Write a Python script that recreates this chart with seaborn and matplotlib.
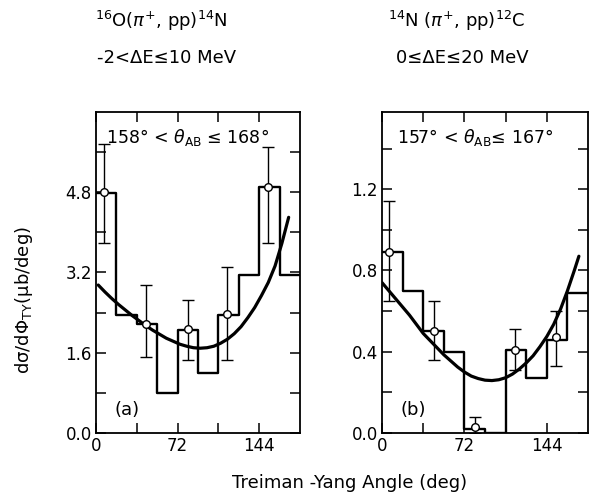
import numpy as np
import pandas as pd
import matplotlib
matplotlib.use("Agg")
import matplotlib.pyplot as plt
from matplotlib.ticker import FixedLocator, FormatStrFormatter
import seaborn as sns

# ---------------- data ----------------
bin_edges = [0, 18, 36, 54, 72, 90, 108, 126, 144, 162, 180]
bin_centers = [9, 27, 45, 63, 81, 99, 117, 135, 153, 171]

# panel (a): 16O(pi+,pp)14N
hist_a = [4.79, 2.36, 2.17, 0.79, 2.06, 1.20, 2.36, 3.14, 4.90, 3.14]
pts_a_x = [7, 44, 81, 116, 152]
pts_a_y = [4.80, 2.18, 2.07, 2.37, 4.91]
pts_a_lo = [3.79, 1.52, 1.45, 1.45, 3.79]
pts_a_hi = [5.76, 2.95, 2.66, 3.31, 5.70]
curve_a_x = [2, 8, 14, 20, 26, 32, 38, 44, 50, 56, 62, 68, 74, 80, 86, 92, 98, 104,
             110, 116, 122, 128, 134, 140, 146, 152, 158, 164, 170]
curve_a_y = [2.95, 2.81, 2.68, 2.56, 2.45, 2.34, 2.24, 2.14, 2.05, 1.97, 1.89, 1.83,
             1.77, 1.73, 1.70, 1.69, 1.70, 1.73, 1.79, 1.87, 1.98, 2.12, 2.30, 2.50,
             2.74, 3.00, 3.33, 3.78, 4.30]

# panel (b): 14N(pi+,pp)12C
hist_b = [0.89, 0.70, 0.50, 0.40, 0.02, 0.0, 0.41, 0.27, 0.46, 0.69]
pts_b_x = [6, 45, 81, 116, 152]
pts_b_y = [0.89, 0.50, 0.03, 0.41, 0.47]
pts_b_lo = [0.65, 0.36, 0.00, 0.31, 0.33]
pts_b_hi = [1.14, 0.65, 0.08, 0.51, 0.60]
curve_b_x = [0, 6, 12, 18, 24, 30, 36, 42, 48, 54, 60, 66, 72, 78, 84, 90, 96, 102,
             108, 114, 120, 126, 132, 138, 144, 150, 156, 162, 168, 172]
curve_b_y = [0.74, 0.70, 0.66, 0.62, 0.58, 0.535, 0.49, 0.455, 0.42, 0.385, 0.355,
             0.325, 0.30, 0.28, 0.268, 0.26, 0.258, 0.262, 0.272, 0.29, 0.315, 0.345,
             0.38, 0.425, 0.475, 0.535, 0.61, 0.70, 0.80, 0.87]

x_major = [0, 72, 144]
x_minor = [36, 108]
ya_major = [0.0, 1.6, 3.2, 4.8]
ya_minor = [0.8, 2.4, 4.0, 5.6]
yb_major = [0.0, 0.4, 0.8, 1.2]
yb_minor = [0.2, 0.6, 1.0, 1.4]

titles_a = ["$^{16}$O($\\pi^{+}$, pp)$^{14}$N", "-2<\u0394E\u226410 MeV"]
titles_b = ["$^{14}$N ($\\pi^{+}$, pp)$^{12}$C", "0\u2264\u0394E\u226420 MeV"]
angle_a = "158\u00b0 < $\\theta_{\\rm AB}$ \u2264 168\u00b0"
angle_b = "157\u00b0 < $\\theta_{\\rm AB}$\u2264 167\u00b0"

# ---------------- plotting ----------------
sns.set_style("white")
plt.rcParams["font.family"] = ["DejaVu Sans"]
plt.rcParams["mathtext.fontset"] = "dejavusans"
plt.rcParams["text.color"] = "black"
plt.rcParams["axes.labelcolor"] = "black"
plt.rcParams["xtick.color"] = "black"
plt.rcParams["ytick.color"] = "black"

fig = plt.figure(figsize=(5.91, 5.04), dpi=100)
ax1 = fig.add_axes([0.1624, 0.1409, 0.3452, 0.6369])
ax2 = fig.add_axes([0.6464, 0.1409, 0.3486, 0.6369])


def draw_panel(ax, hist, px, py, plo, phi, cx, cy, ymaj, ymin, ylim, tag, angle):
    df_h = pd.DataFrame({"x": bin_centers, "w": hist})
    sns.histplot(data=df_h, x="x", weights="w", bins=bin_edges, element="step",
                 fill=False, color="black", linewidth=1.7, ax=ax)
    df_c = pd.DataFrame({"x": cx, "y": cy})
    sns.lineplot(data=df_c, x="x", y="y", color="black", linewidth=2.3,
                 estimator=None, ax=ax)
    py_a = np.array(py)
    yerr = np.vstack([py_a - np.array(plo), np.array(phi) - py_a])
    ax.errorbar(px, py, yerr=yerr, fmt="none", ecolor="black", elinewidth=1.0,
                capsize=4, capthick=1.0, zorder=3)
    df_p = pd.DataFrame({"x": px, "y": py})
    sns.scatterplot(data=df_p, x="x", y="y", s=30, facecolor="white",
                    edgecolor="black", linewidth=1.0, zorder=4, ax=ax)
    ax.set_xlim(0, 180)
    ax.set_ylim(*ylim)
    ax.xaxis.set_major_locator(FixedLocator(x_major))
    ax.xaxis.set_minor_locator(FixedLocator(x_minor))
    ax.yaxis.set_major_locator(FixedLocator(ymaj))
    ax.yaxis.set_minor_locator(FixedLocator(ymin))
    ax.yaxis.set_major_formatter(FormatStrFormatter("%.1f"))
    ax.tick_params(which="both", direction="in", top=True, right=True,
                   bottom=True, left=True,
                   length=7, width=1.1, labelsize=12, pad=3, colors="black")
    ax.set_xlabel("")
    ax.set_ylabel("")
    for s in ax.spines.values():
        s.set_linewidth(1.3)
        s.set_color("black")
    ax.text(0.15, 0.072, tag, transform=ax.transAxes, fontsize=13,
            ha="center", va="center")
    ax.text(0.45, 0.904, angle, transform=ax.transAxes, fontsize=12.5,
            ha="center", va="baseline")


draw_panel(ax1, hist_a, pts_a_x, pts_a_y, pts_a_lo, pts_a_hi, curve_a_x, curve_a_y,
           ya_major, ya_minor, (0, 6.4), "(a)", angle_a)
draw_panel(ax2, hist_b, pts_b_x, pts_b_y, pts_b_lo, pts_b_hi, curve_b_x, curve_b_y,
           yb_major, yb_minor, (0, 1.58), "(b)", angle_b)

fig.text(0.272, 0.958, titles_a[0], fontsize=13, ha="center", va="center")
fig.text(0.281, 0.885, titles_a[1], fontsize=13, ha="center", va="center")
fig.text(0.773, 0.958, titles_b[0], fontsize=13, ha="center", va="center")
fig.text(0.782, 0.885, titles_b[1], fontsize=13, ha="center", va="center")
fig.text(0.592, 0.042, "Treiman -Yang Angle (deg)", fontsize=13,
         ha="center", va="center")
fig.text(0.041, 0.405, "d\u03c3/d\u03a6$_{\\rm TY}$(\u03bcb/deg)", fontsize=13,
         ha="center", va="center", rotation=90)

fig.savefig("out.png", dpi=100, facecolor="white")
